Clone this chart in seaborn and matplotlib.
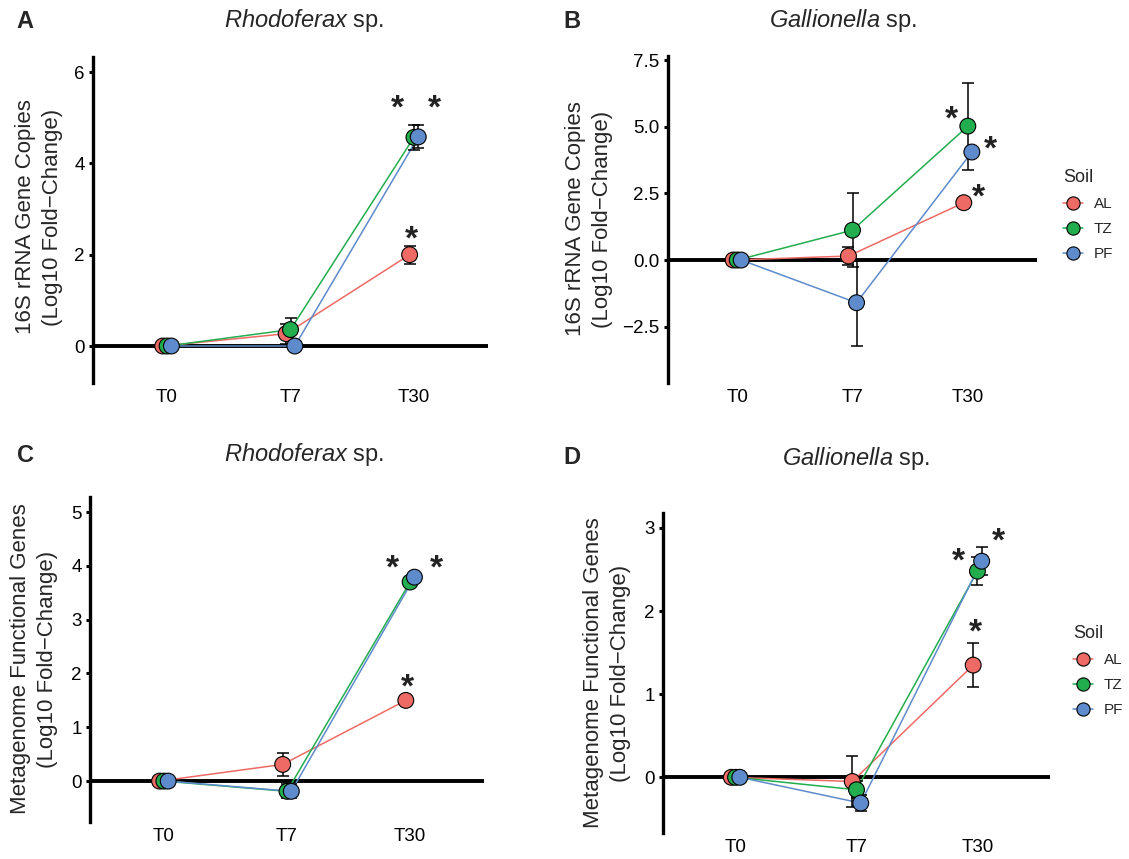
import numpy as np
import pandas as pd
import seaborn as sns
import matplotlib.pyplot as plt
import matplotlib.transforms as mtransforms
from matplotlib.lines import Line2D

sns.set_style('ticks')
plt.rcParams['font.family'] = ['Liberation Sans', 'DejaVu Sans']
plt.rcParams['mathtext.fontset'] = 'custom'
plt.rcParams['mathtext.it'] = 'Liberation Sans:italic'
plt.rcParams['mathtext.rm'] = 'Liberation Sans'

times = ['T0', 'T7', 'T30']
soils = ['AL', 'TZ', 'PF']
soil_colors = {'AL': '#EE6A64', 'TZ': '#22AD4E', 'PF': '#5E8BCB'}
dodge = {'AL': -0.035, 'TZ': 0.0, 'PF': 0.035}

# A: Rhodoferax, 16S rRNA gene copies
a_vals = {'AL': [0, 0.27, 2.00], 'TZ': [0, 0.36, 4.57], 'PF': [0, 0.00, 4.58]}
a_errs = {'AL': [np.nan, 0.22, 0.20], 'TZ': [np.nan, 0.25, 0.27], 'PF': [np.nan, 0.05, 0.25]}
# B: Gallionella, 16S rRNA gene copies
b_vals = {'AL': [0, 0.15, 2.15], 'TZ': [0, 1.12, 5.02], 'PF': [0, -1.60, 4.05]}
b_errs = {'AL': [np.nan, 0.35, 0.10], 'TZ': [np.nan, 1.38, 1.63], 'PF': [np.nan, 1.62, 0.20]}
# C: Rhodoferax, metagenome functional genes
c_vals = {'AL': [0, 0.31, 1.50], 'TZ': [0, -0.19, 3.70], 'PF': [0, -0.19, 3.79]}
c_errs = {'AL': [np.nan, 0.22, 0.06], 'TZ': [np.nan, 0.13, 0.10], 'PF': [np.nan, 0.13, 0.06]}
# D: Gallionella, metagenome functional genes
d_vals = {'AL': [0, -0.05, 1.35], 'TZ': [0, -0.15, 2.48], 'PF': [0, -0.31, 2.60]}
d_errs = {'AL': [np.nan, 0.31, 0.26], 'TZ': [np.nan, 0.10, 0.17], 'PF': [np.nan, 0.10, 0.17]}

# significance stars (x in category units, y in data units)
a_stars = [(1.87, 5.43), (2.17, 5.43), (1.98, 2.54)]
b_stars = [(1.86, 5.65), (2.20, 4.53), (2.09, 2.71)]
c_stars = [(1.86, 4.13), (2.21, 4.13), (1.98, 1.92)]
d_stars = [(1.84, 2.72), (2.17, 2.96), (1.98, 1.86)]

a_ticks = [0, 2, 4, 6]
b_ticks = [-2.5, 0.0, 2.5, 5.0, 7.5]
c_ticks = [0, 1, 2, 3, 4, 5]
d_ticks = [0, 1, 2, 3]
a_ticklabels = ['0', '2', '4', '6']
b_ticklabels = ['\u22122.5', '0.0', '2.5', '5.0', '7.5']
c_ticklabels = ['0', '1', '2', '3', '4', '5']
d_ticklabels = ['0', '1', '2', '3']

genus_a = r'$\it{Rhodoferax}$ sp.'
genus_b = r'$\it{Gallionella}$ sp.'
ylab_top = '16S rRNA Gene Copies\n(Log10 Fold\u2212Change)'
ylab_bot = 'Metagenome Functional Genes\n(Log10 Fold\u2212Change)'


def make_df(vals, errs):
    rows = []
    for s in soils:
        for i, t in enumerate(times):
            rows.append({'Soil': s, 'Time': t, 'xpos': i + dodge[s],
                         'value': vals[s][i], 'err': errs[s][i]})
    return pd.DataFrame(rows)


fig = plt.figure(figsize=(11.29, 8.59), dpi=100)
W, H = 1129, 859


def px_axes(left, right, top, bottom):
    return fig.add_axes([left / W, 1 - bottom / H, (right - left) / W, (bottom - top) / H])


panels = [
    dict(box=(93, 488, 57, 383), ylim=(-0.81, 6.33), vals=a_vals, errs=a_errs, stars=a_stars,
         ticks=a_ticks, ticklabels=a_ticklabels, title=genus_a, title_xy=(304, 21),
         letter='A', letter_xy=(25, 22), ylab=ylab_top, ylab_xy=(39, 217), legend=None),
    dict(box=(668, 1037, 56, 383), ylim=(-4.61, 7.65), vals=b_vals, errs=b_errs, stars=b_stars,
         ticks=b_ticks, ticklabels=b_ticklabels, title=genus_b, title_xy=(843, 21),
         letter='B', letter_xy=(572, 22), ylab=ylab_top, ylab_xy=(589, 219), legend=(1057, 163)),
    dict(box=(90, 484, 497, 822), ylim=(-0.76, 5.28), vals=c_vals, errs=c_errs, stars=c_stars,
         ticks=c_ticks, ticklabels=c_ticklabels, title=genus_a, title_xy=(304, 455),
         letter='C', letter_xy=(25, 455), ylab=ylab_bot, ylab_xy=(34, 659), legend=None),
    dict(box=(663, 1050, 513, 833), ylim=(-0.67, 3.18), vals=d_vals, errs=d_errs, stars=d_stars,
         ticks=d_ticks, ticklabels=d_ticklabels, title=genus_b, title_xy=(856, 458),
         letter='D', letter_xy=(572, 458), ylab=ylab_bot, ylab_xy=(607, 673), legend=(1067, 619)),
]

star_fs = 24

for p in panels:
    ax = px_axes(*p['box'])
    df = make_df(p['vals'], p['errs'])

    ax.axhline(0, color='black', linewidth=2.8, zorder=0.5)
    sns.lineplot(data=df, x='xpos', y='value', hue='Soil', hue_order=soils,
                 palette=soil_colors, linewidth=1.1, legend=False, ax=ax, zorder=1)
    eb = df.dropna(subset=['err'])
    ax.errorbar(eb['xpos'], eb['value'], yerr=eb['err'], fmt='none', ecolor='black',
                elinewidth=1.1, capsize=4.5, capthick=1.1, zorder=2)
    sns.scatterplot(data=df, x='xpos', y='value', hue='Soil', hue_order=soils,
                    palette=soil_colors, s=130, edgecolor='black', linewidth=0.8,
                    legend=False, ax=ax, zorder=3)

    star_tr = mtransforms.offset_copy(ax.transData, fig=fig, y=-0.57 * star_fs, units='points')
    for sx, sy in p['stars']:
        ax.text(sx, sy, '*', transform=star_tr, ha='center', va='baseline',
                fontsize=star_fs, fontweight='bold', color='#222222')

    ax.set_xlim(-0.6, 2.6)
    ax.set_ylim(*p['ylim'])
    ax.set_xticks(range(len(times)))
    ax.set_xticklabels(times)
    ax.set_yticks(p['ticks'])
    ax.set_yticklabels(p['ticklabels'])
    ax.set_xlabel('')
    ax.set_ylabel('')
    for side in ['top', 'right', 'bottom']:
        ax.spines[side].set_visible(False)
    ax.spines['left'].set_linewidth(2.4)
    ax.spines['left'].set_color('black')
    ax.tick_params(axis='x', length=0, pad=4.5, labelsize=13.5, labelcolor='black')
    ax.tick_params(axis='y', length=3, width=2.2, pad=3, labelsize=13.5,
                   labelcolor='black', color='black')
    ax.patch.set_alpha(0)

    fig.text(p['title_xy'][0] / W, 1 - p['title_xy'][1] / H, p['title'],
             ha='center', va='center', fontsize=17)
    fig.text(p['letter_xy'][0] / W, 1 - p['letter_xy'][1] / H, p['letter'],
             ha='center', va='center', fontsize=17, fontweight='bold')
    fig.text(p['ylab_xy'][0] / W, 1 - p['ylab_xy'][1] / H, p['ylab'], rotation=90,
             ha='center', va='center', multialignment='center', fontsize=16, linespacing=1.35)

    if p['legend'] is not None:
        handles = [Line2D([0], [0], color=soil_colors[s], marker='o', markersize=9.5,
                          markerfacecolor=soil_colors[s], markeredgecolor='black',
                          markeredgewidth=0.8, linewidth=1.1) for s in soils]
        leg = fig.legend(handles, soils, title='Soil', loc='upper left',
                         bbox_to_anchor=(p['legend'][0] / W, 1 - p['legend'][1] / H),
                         frameon=False, fontsize=11, title_fontsize=13, handlelength=1.3,
                         handletextpad=0.7, labelspacing=0.72, borderpad=0.4, borderaxespad=0,
                         alignment='left')

fig.savefig('out.png', dpi=100)
